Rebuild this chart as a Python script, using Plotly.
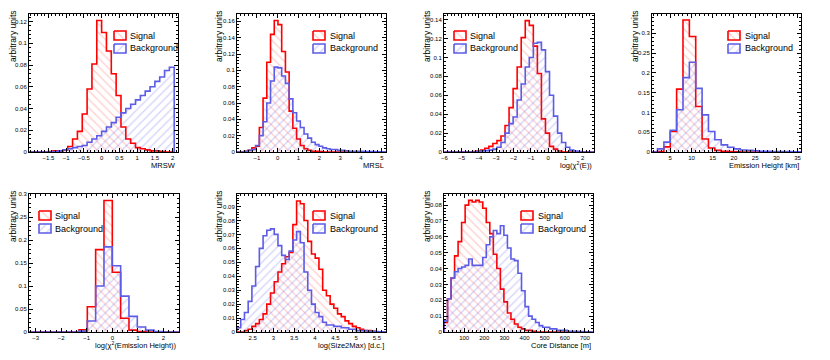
import numpy as np
import plotly.graph_objects as go

## 1. Histogram contents (arbitrary units, per bin)

# MRSW
mrsw_x0, mrsw_w = -2.045, 0.1363
mrsw_sig = [0, 0, 0, 0, 0.0005, 0.001, 0.001, 0.002, 0.005, 0.012,
            0.019, 0.035, 0.058, 0.081, 0.121, 0.110, 0.093, 0.072, 0.052, 0.023,
            0.012, 0.008, 0.004, 0.003, 0.002, 0.001, 0.001, 0.0005, 0, 0]
mrsw_bkg = [0, 0, 0, 0, 0, 0.0005, 0.001, 0.002, 0.003, 0.004,
            0.005, 0.006, 0.009, 0.012, 0.015, 0.019, 0.023, 0.027, 0.032, 0.036,
            0.040, 0.044, 0.048, 0.052, 0.056, 0.060, 0.065, 0.069, 0.075, 0.078]
mrsw_xticks = [-1.5, -1, -0.5, 0, 0.5, 1, 1.5, 2]

# MRSL
mrsl_x0, mrsl_w = -1.95, 0.17875
mrsl_sig = [0, 0, 0.001, 0.002, 0.005, 0.007, 0.030, 0.066, 0.110, 0.144,
            0.161, 0.156, 0.123, 0.098, 0.050, 0.029, 0.016, 0.008, 0.004, 0.002,
            0.001, 0.001, 0.0005, 0, 0, 0, 0, 0, 0, 0,
            0, 0, 0, 0, 0, 0, 0, 0, 0, 0]
mrsl_bkg = [0, 0, 0.001, 0.002, 0.003, 0.008, 0.020, 0.037, 0.060, 0.087,
            0.104, 0.103, 0.093, 0.084, 0.065, 0.048, 0.038, 0.030, 0.022, 0.017,
            0.012, 0.009, 0.007, 0.005, 0.004, 0.003, 0.003, 0.002, 0.002, 0.0015,
            0.001, 0.001, 0.001, 0.0008, 0.0006, 0.0005, 0.0004, 0.0003, 0.0002, 0.0001]
mrsl_xticks = [-1, 0, 1, 2, 3, 4, 5]

# log(chi2(E))
chie_x0, chie_w = -6.0, 0.2338
chie_sig = [0, 0, 0, 0, 0, 0, 0, 0.0005, 0.001, 0.002,
            0.004, 0.006, 0.009, 0.012, 0.017, 0.028, 0.047, 0.067, 0.090, 0.121,
            0.139, 0.134, 0.112, 0.083, 0.035, 0.020, 0.006, 0.003, 0.001, 0,
            0, 0, 0, 0, 0, 0, 0]
chie_bkg = [0, 0, 0, 0, 0, 0, 0, 0, 0.0005, 0.001,
            0.0015, 0.002, 0.003, 0.005, 0.010, 0.020, 0.030, 0.037, 0.055, 0.072,
            0.090, 0.100, 0.115, 0.116, 0.108, 0.085, 0.060, 0.038, 0.020, 0.010,
            0.005, 0.002, 0.001, 0.0005, 0, 0, 0]
chie_xticks = [-6, -5, -4, -3, -2, -1, 0, 1, 2]

# Emission height [km]
emh_x0, emh_w = 0.5, 1.5
emh_sig = [0, 0.001, 0.013, 0.052, 0.159, 0.334, 0.292, 0.115, 0.033, 0.010,
           0.004, 0.002, 0.001, 0.0005, 0, 0, 0, 0, 0, 0,
           0, 0, 0, 0]
emh_bkg = [0, 0.008, 0.025, 0.055, 0.107, 0.188, 0.227, 0.161, 0.094, 0.052,
           0.031, 0.018, 0.012, 0.008, 0.005, 0.004, 0.003, 0.002, 0.002, 0.001,
           0.001, 0.001, 0.0005, 0.0005]
emh_xticks = [5, 10, 15, 20, 25, 30, 35]

# log(chi2(Emission Height))
chih_x0, chih_w = -3.26, 0.326
chih_sig = [0, 0, 0, 0, 0, 0, 0.005, 0.055, 0.179, 0.286,
            0.130, 0.030, 0.004, 0.001, 0, 0, 0, 0]
chih_bkg = [0, 0, 0, 0, 0, 0, 0.002, 0.024, 0.100, 0.185,
            0.144, 0.078, 0.034, 0.011, 0.004, 0.001, 0, 0]
chih_xticks = [-3, -2, -1, 0, 1, 2]

# log(Size2Max) [d.c.]
s2m_x0, s2m_w = 2.12, 0.09
s2m_sig = [0, 0, 0.001, 0.002, 0.004, 0.006, 0.009, 0.013, 0.020, 0.028,
           0.036, 0.043, 0.049, 0.054, 0.057, 0.077, 0.094, 0.092, 0.080, 0.065,
           0.056, 0.053, 0.045, 0.030, 0.026, 0.020, 0.017, 0.013, 0.011, 0.008,
           0.006, 0.004, 0.003, 0.002, 0.001, 0.001, 0.0005, 0, 0, 0]
s2m_bkg = [0.003, 0.009, 0.014, 0.022, 0.033, 0.047, 0.060, 0.069, 0.073, 0.074,
           0.070, 0.062, 0.055, 0.052, 0.058, 0.066, 0.072, 0.064, 0.043, 0.030,
           0.020, 0.014, 0.011, 0.007, 0.005, 0.005, 0.004, 0.004, 0.003, 0.003,
           0.002, 0.002, 0.001, 0.001, 0.001, 0.0005, 0.0005, 0.0003, 0.0002, 0.0001]
s2m_xticks = [2.5, 3, 3.5, 4, 4.5, 5, 5.5]

# Core distance [m]
core_x0, core_w = 0.0, 17.5
core_sig = [0.006, 0.021, 0.034, 0.048, 0.057, 0.069, 0.080, 0.083, 0.082, 0.083,
            0.082, 0.078, 0.069, 0.062, 0.049, 0.040, 0.027, 0.019, 0.012, 0.008,
            0.005, 0.003, 0.002, 0.001, 0.001, 0.0005, 0, 0, 0, 0,
            0, 0, 0, 0, 0, 0, 0, 0, 0, 0,
            0, 0]
core_bkg = [0.007, 0.021, 0.034, 0.038, 0.040, 0.041, 0.042, 0.046, 0.042, 0.042,
            0.042, 0.047, 0.055, 0.060, 0.064, 0.062, 0.067, 0.061, 0.053, 0.046,
            0.045, 0.037, 0.026, 0.016, 0.010, 0.008, 0.006, 0.004, 0.003, 0.003,
            0.002, 0.002, 0.001, 0.001, 0.001, 0.0005, 0.0005, 0.0005, 0.0003, 0.0003,
            0.0002, 0.0001]
core_xticks = [100, 200, 300, 400, 500, 600, 700]

legend_labels = ["Signal", "Background"]

## 2. Panel settings (pixel boxes measured on the 830x360 page)

panels = [
    dict(sig=mrsw_sig, bkg=mrsw_bkg, x0=mrsw_x0, w=mrsw_w, title="MRSW", xt=mrsw_xticks,
         xr=[-2.045, 2.15], yr=[0, 0.127], xm=0.1, yd=0.02, ym=0.004,
         box=(29, 178, 14, 152), leg=(114, 128, 35.5), ty=165, tx=13),
    dict(sig=mrsl_sig, bkg=mrsl_bkg, x0=mrsl_x0, w=mrsl_w, title="MRSL", xt=mrsl_xticks,
         xr=[-1.95, 5.2], yr=[0, 0.169], xm=0.2, yd=0.02, ym=0.004,
         box=(237, 386, 14, 152), leg=(313, 328, 35.5), ty=165, tx=219),
    dict(sig=chie_sig, bkg=chie_bkg, x0=chie_x0, w=chie_w, title="log(χ<sup>2</sup>(E))",
         xt=chie_xticks, xr=[-6.02, 2.65], yr=[0, 0.146], xm=0.2, yd=0.02, ym=0.004,
         box=(444, 594, 14, 152), leg=(454, 468, 35.5), ty=165, tx=427),
    dict(sig=emh_sig, bkg=emh_bkg, x0=emh_x0, w=emh_w, title="Emission Height [km]",
         xt=emh_xticks, xr=[0.7, 35.8], yr=[0, 0.349], xm=1, yd=0.05, ym=0.01,
         box=(652, 801, 14, 152), leg=(728, 743, 35.5), ty=165, tx=635),
    dict(sig=chih_sig, bkg=chih_bkg, x0=chih_x0, w=chih_w,
         title="log(χ<sup>2</sup>(Emission Height))", xt=chih_xticks,
         xr=[-3.26, 2.61], yr=[0, 0.30], xm=0.2, yd=0.05, ym=0.01,
         box=(29, 179, 194, 332), leg=(39, 53, 215.5), ty=345, tx=13),
    dict(sig=s2m_sig, bkg=s2m_bkg, x0=s2m_x0, w=s2m_w, title="log(Size2Max) [d.c.]",
         xt=s2m_xticks, xr=[2.12, 5.72], yr=[0, 0.099], xm=0.1, yd=0.01, ym=0.002,
         box=(237, 386, 194, 332), leg=(313, 328, 215.5), ty=345, tx=219),
    dict(sig=core_sig, bkg=core_bkg, x0=core_x0, w=core_w, title="Core Distance [m]",
         xt=core_xticks, xr=[0, 740], yr=[0, 0.087], xm=20, yd=0.01, ym=0.002,
         box=(444, 593, 194, 332), leg=(521, 536, 215.5), ty=345, tx=427),
]

# the page body keeps its default 8px margin, so the figure starts at (8, 8)
OFF = 8
W, H = 830 - OFF, 360 - OFF
FONT = "Liberation Sans, Arial, sans-serif"
RED, BLUE = "#ff0000", "#5c5ce6"
RED_HATCH, BLUE_HATCH = "rgba(255,60,60,0.5)", "rgba(80,80,235,0.5)"


def px(x):
    return (x - OFF) / W


def py(y):
    return 1 - (y - OFF) / H


def steps(x0, w, vals):
    edges = x0 + w * np.arange(len(vals) + 1)
    xs = [edges[0]] + list(edges[:-1]) + [edges[-1]]
    ys = [0] + list(vals) + [0]
    return xs, ys


def hatch(shape, color):
    return dict(shape=shape, fgcolor=color, bgcolor="rgba(0,0,0,0)",
                size=6, solidity=0.22, fillmode="overlay")


fig = go.Figure()
annotations = []
layout = {}

for i, p in enumerate(panels):
    n = i + 1
    sfx = "" if n == 1 else str(n)
    for vals, col, hcol, shp in [(p["sig"], RED, RED_HATCH, "\\"),
                                 (p["bkg"], BLUE, BLUE_HATCH, "/")]:
        xs, ys = steps(p["x0"], p["w"], vals)
        fig.add_trace(go.Scatter(x=xs, y=ys, mode="lines", line_shape="hv",
                                 line=dict(color=col, width=1.6),
                                 fill="tozeroy", fillcolor="rgba(0,0,0,0)",
                                 fillpattern=hatch(shp, hcol),
                                 xaxis="x" + sfx, yaxis="y" + sfx,
                                 showlegend=False, hoverinfo="skip"))

    l, r, t, b = p["box"]
    common = dict(showline=True, linecolor="black", linewidth=1, mirror="allticks",
                  ticks="inside", ticklen=4, tickwidth=1, tickcolor="black",
                  showgrid=False, zeroline=False, fixedrange=True, automargin=False,
                  tickfont=dict(family=FONT, size=6, color="black"))
    layout["xaxis" + sfx] = dict(common, domain=[px(l), px(r)], range=p["xr"],
                                 anchor="y" + sfx, tickmode="array", tickvals=p["xt"],
                                 minor=dict(ticks="inside", ticklen=2, dtick=p["xm"],
                                            tick0=0, tickcolor="black"))
    layout["yaxis" + sfx] = dict(common, domain=[py(b), py(t)], range=p["yr"],
                                 anchor="x" + sfx, dtick=p["yd"], tick0=0,
                                 minor=dict(ticks="inside", ticklen=2, dtick=p["ym"],
                                            tick0=0, tickcolor="black"))

    # axis titles, ROOT style: x at the right end, y at the top
    annotations.append(dict(text=p["title"], xref="paper", yref="paper",
                            x=px(r), y=py(p["ty"]), xanchor="right", yanchor="middle",
                            showarrow=False, font=dict(family=FONT, size=7.5, color="black")))
    annotations.append(dict(text="arbitrary units", xref="paper", yref="paper",
                            x=px(p["tx"]), y=py(t - 6), xanchor="center", yanchor="top",
                            textangle=-90, showarrow=False,
                            font=dict(family=FONT, size=8.5, color="black")))

    # legend: hatched boxes drawn on an overlay pixel axis + text
    ix, tx_, yc = p["leg"]
    for k, (lab, col, hcol, shp) in enumerate([(legend_labels[0], RED, RED_HATCH, "\\"),
                                               (legend_labels[1], BLUE, BLUE_HATCH, "/")]):
        y0 = yc + 13 * k
        fig.add_trace(go.Scatter(x=[ix, ix + 12, ix + 12, ix, ix],
                                 y=[y0 - 4.5, y0 - 4.5, y0 + 4.5, y0 + 4.5, y0 - 4.5],
                                 mode="lines", line=dict(color=col, width=1.6),
                                 fill="toself", fillcolor="rgba(0,0,0,0)",
                                 fillpattern=hatch(shp, hcol),
                                 xaxis="x8", yaxis="y8", showlegend=False,
                                 hoverinfo="skip"))
        annotations.append(dict(text=lab, xref="paper", yref="paper",
                                x=px(tx_), y=py(y0), xanchor="left", yanchor="middle",
                                showarrow=False,
                                font=dict(family=FONT, size=9, color="black")))

# overlay axis in page pixels, used only for the legend boxes
layout["xaxis8"] = dict(domain=[0, 1], range=[OFF, OFF + W], visible=False, anchor="y8",
                        fixedrange=True, automargin=False)
layout["yaxis8"] = dict(domain=[0, 1], range=[OFF + H, OFF], visible=False, anchor="x8",
                        fixedrange=True, automargin=False)

fig.update_layout(**layout)
fig.update_layout(width=W, height=H, margin=dict(l=0, r=0, t=0, b=0),
                  paper_bgcolor="white", plot_bgcolor="rgba(0,0,0,0)",
                  showlegend=False, annotations=annotations,
                  font=dict(family=FONT, color="black"))

fig.write_html("out.html")
